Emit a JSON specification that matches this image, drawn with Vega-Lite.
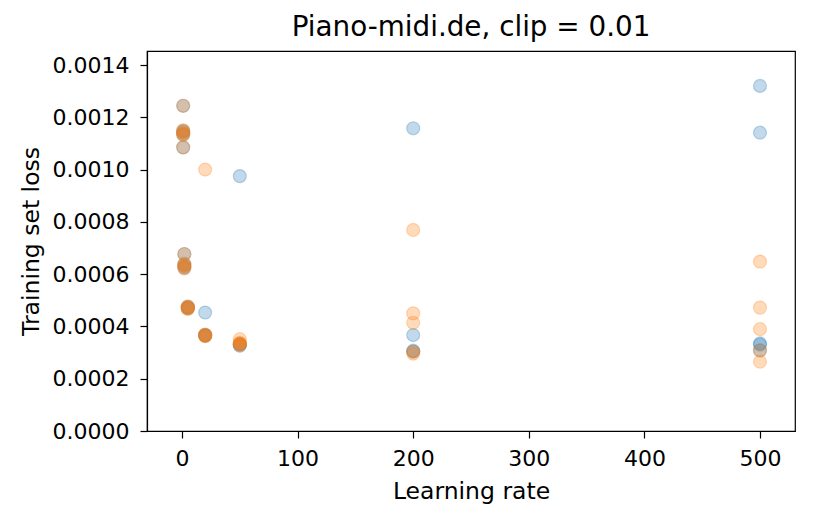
{
  "$schema": "https://vega.github.io/schema/vega-lite/v6.json",
  "autosize": {"type": "none"},
  "padding": {"left": 147, "top": 51, "right": 26, "bottom": 88},
  "width": 648,
  "height": 380,
  "background": "white",
  "title": {"text": "Piano-midi.de, clip = 0.01", "fontSize": 27.8, "font": "DejaVu Sans", "fontWeight": "normal", "color": "black", "baseline": "alphabetic", "offset": 11, "dy": 24, "anchor": "middle"},
  "config": {
    "view": {"stroke": "black", "strokeWidth": 1.2},
    "axis": {"grid": false, "domainColor": "black", "tickColor": "black", "labelColor": "black", "titleColor": "black", "labelFont": "DejaVu Sans", "titleFont": "DejaVu Sans", "labelFontSize": 22, "titleFontSize": 23.5, "titleFontWeight": "normal", "tickSize": 7, "tickWidth": 1.2, "domainWidth": 1.2}
  },
  "data": {"values": [
    {"lr": 1, "loss": 0.001244, "s": "b"},
    {"lr": 1, "loss": 0.001148, "s": "b"},
    {"lr": 1, "loss": 0.001141, "s": "b"},
    {"lr": 1, "loss": 0.001134, "s": "b"},
    {"lr": 1, "loss": 0.001085, "s": "b"},
    {"lr": 2, "loss": 0.000677, "s": "b"},
    {"lr": 2, "loss": 0.000638, "s": "b"},
    {"lr": 2, "loss": 0.000631, "s": "b"},
    {"lr": 2, "loss": 0.000624, "s": "b"},
    {"lr": 5, "loss": 0.000475, "s": "b"},
    {"lr": 5, "loss": 0.000472, "s": "b"},
    {"lr": 5, "loss": 0.000469, "s": "b"},
    {"lr": 20, "loss": 0.000453, "s": "b"},
    {"lr": 20, "loss": 0.000368, "s": "b"},
    {"lr": 20, "loss": 0.000366, "s": "b"},
    {"lr": 20, "loss": 0.000364, "s": "b"},
    {"lr": 50, "loss": 0.000975, "s": "b"},
    {"lr": 50, "loss": 0.000333, "s": "b"},
    {"lr": 50, "loss": 0.00033, "s": "b"},
    {"lr": 50, "loss": 0.000326, "s": "b"},
    {"lr": 200, "loss": 0.001158, "s": "b"},
    {"lr": 200, "loss": 0.000367, "s": "b"},
    {"lr": 200, "loss": 0.000307, "s": "b"},
    {"lr": 200, "loss": 0.000304, "s": "b"},
    {"lr": 500, "loss": 0.00132, "s": "b"},
    {"lr": 500, "loss": 0.001141, "s": "b"},
    {"lr": 500, "loss": 0.000335, "s": "b"},
    {"lr": 500, "loss": 0.00033, "s": "b"},
    {"lr": 500, "loss": 0.000308, "s": "b"},
    {"lr": 1, "loss": 0.001244, "s": "o"},
    {"lr": 1, "loss": 0.00115, "s": "o"},
    {"lr": 1, "loss": 0.001145, "s": "o"},
    {"lr": 1, "loss": 0.001138, "s": "o"},
    {"lr": 1, "loss": 0.001132, "s": "o"},
    {"lr": 1, "loss": 0.001085, "s": "o"},
    {"lr": 2, "loss": 0.000677, "s": "o"},
    {"lr": 2, "loss": 0.00064, "s": "o"},
    {"lr": 2, "loss": 0.000634, "s": "o"},
    {"lr": 2, "loss": 0.000628, "s": "o"},
    {"lr": 2, "loss": 0.000622, "s": "o"},
    {"lr": 5, "loss": 0.000477, "s": "o"},
    {"lr": 5, "loss": 0.000473, "s": "o"},
    {"lr": 5, "loss": 0.00047, "s": "o"},
    {"lr": 5, "loss": 0.000467, "s": "o"},
    {"lr": 20, "loss": 0.001, "s": "o"},
    {"lr": 20, "loss": 0.000369, "s": "o"},
    {"lr": 20, "loss": 0.000367, "s": "o"},
    {"lr": 20, "loss": 0.000365, "s": "o"},
    {"lr": 20, "loss": 0.000363, "s": "o"},
    {"lr": 50, "loss": 0.000351, "s": "o"},
    {"lr": 50, "loss": 0.000337, "s": "o"},
    {"lr": 50, "loss": 0.000334, "s": "o"},
    {"lr": 50, "loss": 0.000332, "s": "o"},
    {"lr": 50, "loss": 0.00033, "s": "o"},
    {"lr": 200, "loss": 0.000769, "s": "o"},
    {"lr": 200, "loss": 0.00045, "s": "o"},
    {"lr": 200, "loss": 0.000414, "s": "o"},
    {"lr": 200, "loss": 0.000303, "s": "o"},
    {"lr": 200, "loss": 0.000296, "s": "o"},
    {"lr": 500, "loss": 0.000648, "s": "o"},
    {"lr": 500, "loss": 0.000472, "s": "o"},
    {"lr": 500, "loss": 0.00039, "s": "o"},
    {"lr": 500, "loss": 0.000308, "s": "o"},
    {"lr": 500, "loss": 0.000265, "s": "o"}
  ]},
  "mark": {"type": "circle", "size": 170, "fillOpacity": 0.28, "strokeOpacity": 0.28, "strokeWidth": 1.2, "clip": true},
  "encoding": {
    "x": {"field": "lr", "type": "quantitative", "scale": {"domain": [-30.3, 530.3], "nice": false, "zero": false},
      "axis": {"values": [0, 100, 200, 300, 400, 500], "title": "Learning rate", "labelPadding": 10, "titlePadding": 10}},
    "y": {"field": "loss", "type": "quantitative", "scale": {"domain": [0, 0.0014536], "nice": false},
      "axis": {"values": [0, 0.0002, 0.0004, 0.0006, 0.0008, 0.001, 0.0012, 0.0014], "format": ".4f", "title": "Training set loss", "labelPadding": 11, "titlePadding": 9}},
    "fill": {"field": "s", "type": "nominal", "scale": {"domain": ["b", "o"], "range": ["#1f77b4", "#ff7f0e"]}, "legend": null},
    "stroke": {"field": "s", "type": "nominal", "scale": {"domain": ["b", "o"], "range": ["#1f77b4", "#ff7f0e"]}, "legend": null}
  }
}
